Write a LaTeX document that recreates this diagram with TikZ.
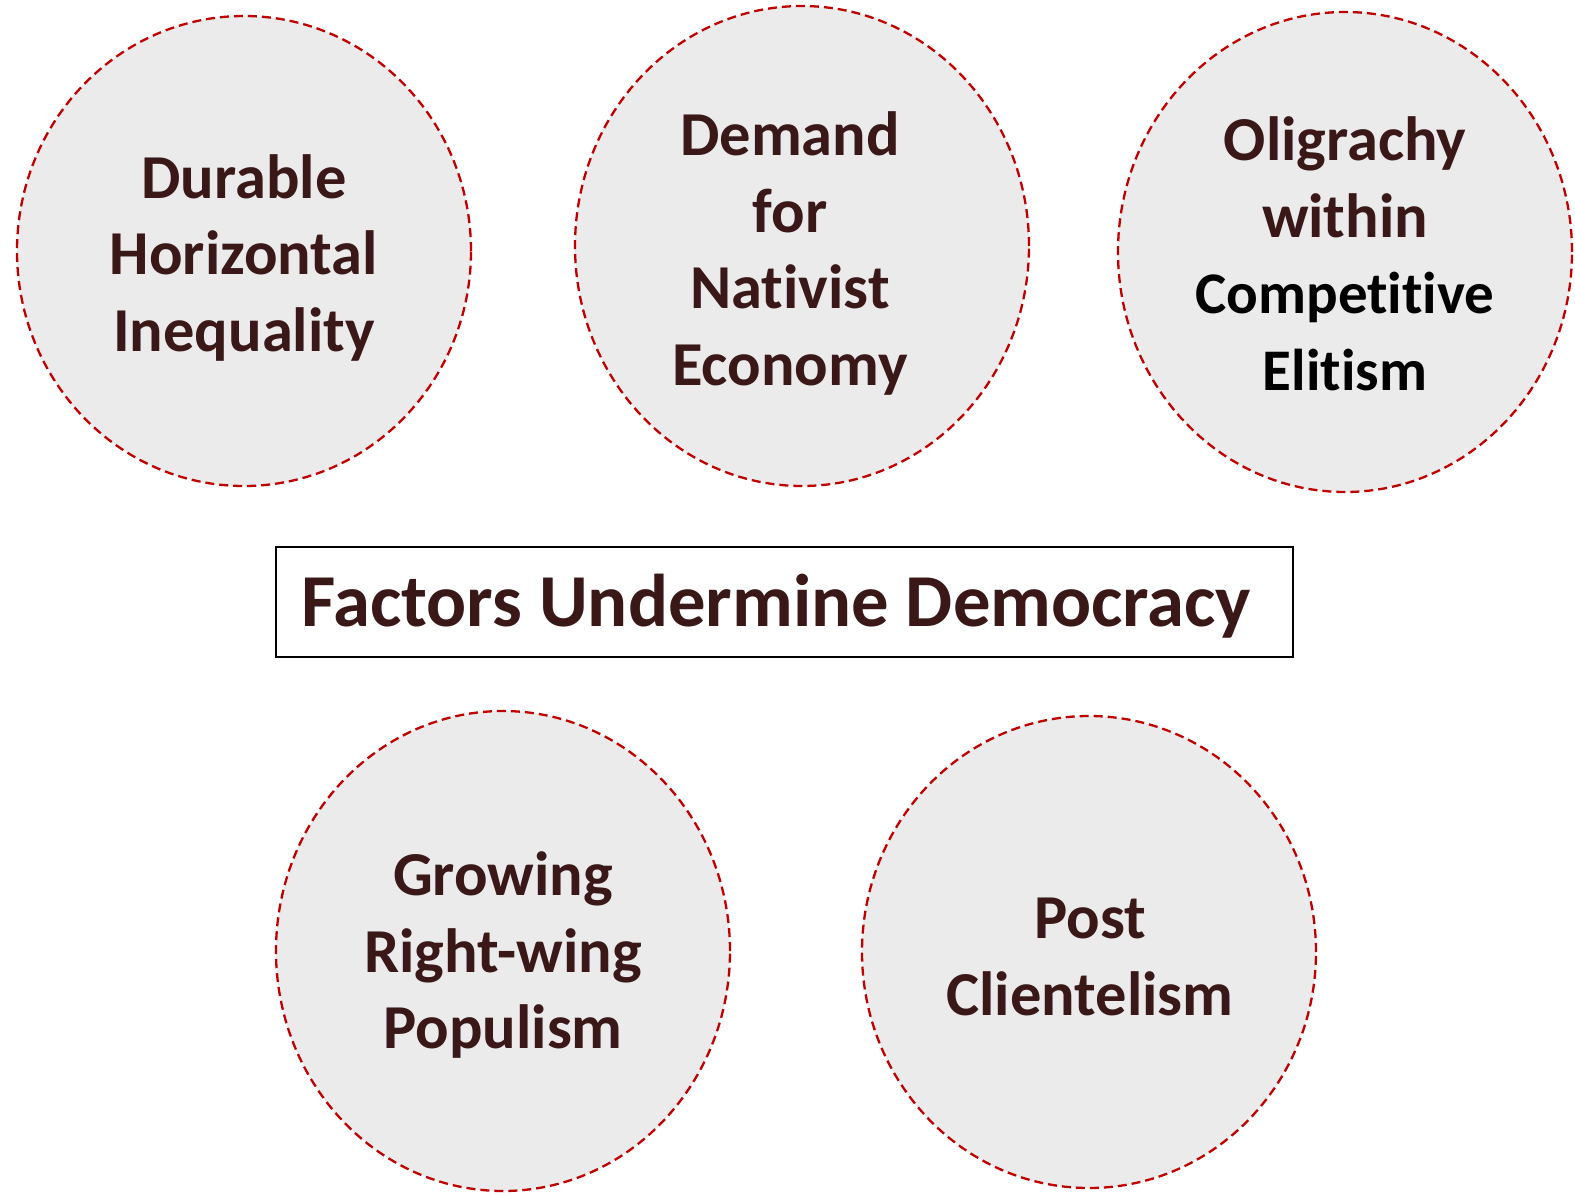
\documentclass[tikz,border=0pt]{standalone}
\usepackage{fontspec}
\setmainfont[Ligatures=NoCommon]{Carlito}
\usetikzlibrary{shapes.geometric}
\definecolor{txtbrown}{HTML}{3A1818}
\definecolor{ringred}{HTML}{C00000}
\definecolor{discgray}{HTML}{EBEBEB}
\begin{document}
\begin{tikzpicture}[x=1pt,y=-1pt,
  factor/.style={ellipse, draw=ringred, fill=discgray, line width=2.3pt,
    dash pattern=on 9pt off 5pt, minimum width=454pt, minimum height=476pt,
    inner sep=0pt},
  factortext/.style={inner sep=0pt, align=center, text=txtbrown,
    font=\fontsize{62.5}{76.5}\selectfont\bfseries},
  titlebox/.style={draw=black, line width=2pt, minimum width=1017pt, minimum height=110pt,
    inner sep=0pt},
  titletext/.style={inner sep=0pt, text=txtbrown, font=\fontsize{74.7}{88}\selectfont\bfseries}]
\useasboundingbox (0,0) rectangle (1575,1196);
\newcommand{\blk}[1]{{\color{black}\fontsize{59}{75}\selectfont #1}}
\node[factor, minimum height=470pt] (durable) at (244,251) {};
\node[factortext] (durableT) at ([yshift=-6.5pt]durable.center) {Durable\\Horizontal\\Inequality};
\node[factor, minimum height=480pt] (demand) at (802,246) {};
\node[factortext] (demandT) at ([xshift=-12pt,yshift=-7.5pt]demand.center) {Demand\\for\\Nativist\\Economy};
\node[factor, minimum height=480pt] (olig) at (1345,252) {};
\node[factortext] (oligT) at ([yshift=-2pt]olig.center) {Oligrachy\\within\\\blk{Competitive}\\\blk{Elitism}};
\node[factor, minimum height=480pt] (growing) at (503,951) {};
\node[factortext] (growingT) at ([yshift=-4pt]growing.center) {Growing\\Right-wing\\Populism};
\node[factor, minimum height=472pt] (post) at (1089,952) {};
\node[factortext] (postT) at ([xshift=1pt,yshift=-5pt]post.center) {Post\\Clientelism};
\node[titlebox] (title) at (784.5,602) {};
\node[titletext, anchor=base west] (titleT) at ([xshift=26pt,yshift=-24pt]title.west) {Factors Undermine Democracy};
\end{tikzpicture}
\end{document}
